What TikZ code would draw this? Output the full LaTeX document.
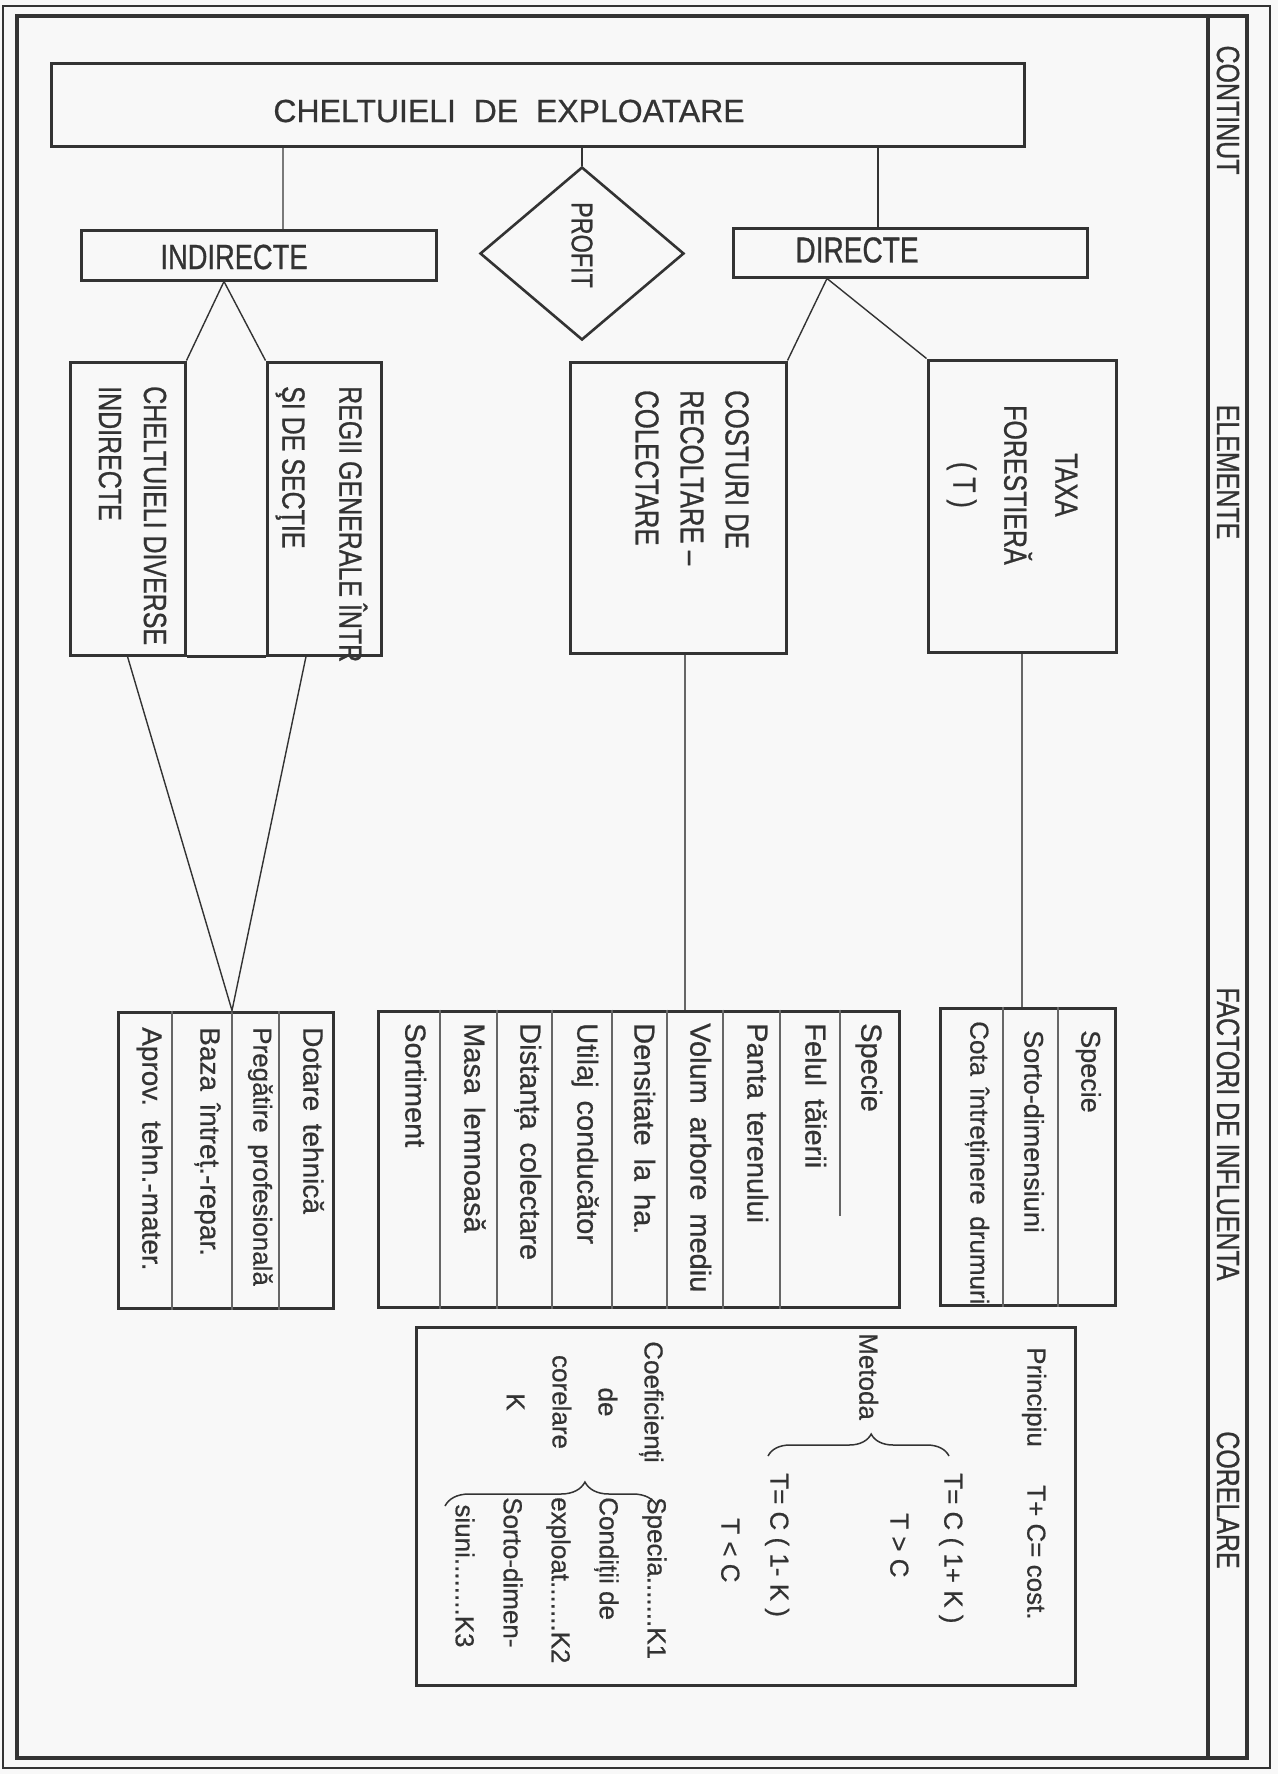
\documentclass[tikz,border=0pt]{standalone}
\usepackage{fontspec}
\setmainfont[FakeBold=0.6]{Liberation Sans}
\newfontfamily\cnd[FakeStretch=0.78,FakeBold=0.8]{Liberation Sans}
\newfontfamily\lst[WordSpace=1.6,FakeBold=0.6]{Liberation Sans}
\usetikzlibrary{shapes.geometric,decorations.pathreplacing}
\definecolor{ink}{HTML}{333333}
\definecolor{paper}{HTML}{F8F8F8}
\begin{document}
\begin{tikzpicture}[x=1pt,y=-1pt,
  every node/.style={text=ink},
  box/.style={draw=ink,line width=3pt,inner sep=0pt},
  conn/.style={draw=ink,line width=1.4pt},
  divl/.style={draw=ink!75,line width=1.2pt},
  rt/.style={rotate=-90,anchor=west,inner sep=0pt},
  rtc/.style={rotate=-90,anchor=center,inner sep=0pt},
  one/.style={text height=0.75em,text depth=0.22em},
  head/.style={rtc,font=\cnd\fontsize{32}{36}\selectfont},
  lstB/.style={rt,one,font=\lst\fontsize{29}{34}\selectfont},
  lstA/.style={rt,one,font=\lst\fontsize{27}{32}\selectfont},
  lstC/.style={rt,one,font=\lst\fontsize{28}{32}\selectfont},
  corel/.style={rt,one,font=\fontsize{26}{30}\selectfont},
  brc/.style={draw=ink,line width=1.5pt,decorate}]
\useasboundingbox (0,0) rectangle (1278,1774);
\fill[paper] (0,0) rectangle (1278,1774);

% frame
\draw[ink,line width=1.6pt] (3,6) rectangle (1270,1768);
\draw[ink,line width=4pt] (17,16) rectangle (1247,1758);
\draw[ink,line width=4pt] (1208,16) -- (1208,1758);

% headings
\node[head] (hcont) at (1228,110) {CONTINUT};
\node[head] (helem) at (1228,472) {ELEMENTE};
\node[head] (hfact) at (1228,1134) {FACTORI DE INFLUENTA};
\node[head] (hcorel) at (1228,1500) {CORELARE};

% top level
\node[box,minimum width=973pt,minimum height=82pt] (main) at (537.5,105) {};
\node[font=\fontsize{32}{36}\selectfont] (maintext) at (509,111) {CHELTUIELI\ \ DE\ \ EXPLOATARE};

\node[box,minimum width=355pt,minimum height=50pt] (indir) at (258.5,255) {};
\node[font=\cnd\fontsize{35}{40}\selectfont] (inditext) at (234,257) {INDIRECTE};

\node[box,minimum width=354pt,minimum height=49pt] (direct) at (910,252.5) {};
\node[font=\cnd\fontsize{36}{40}\selectfont] (directtext) at (857,250) {DIRECTE};

\node[draw=ink,line width=2.6pt,diamond,minimum width=204pt,minimum height=173pt,inner sep=0pt] (profit) at (582,253.5) {};
\node[rtc,font=\cnd\fontsize{30}{34}\selectfont] (proftext) at (582,245) {PROFIT};

\draw[conn,draw=ink!65] ([xshift=24.5pt]indir.north) -- ([xshift=24.5pt]indir.north |- main.south);
\draw[conn] (profit.north) -- (profit.north |- main.south);
\draw[conn] ([xshift=-32pt]direct.north) -- ([xshift=-32pt]direct.north |- main.south);

% elements
\node[box,minimum width=115pt,minimum height=293pt] (chd) at (127.5,508.5) {};
\node[box,minimum width=114pt,minimum height=293pt] (reg) at (324,508.5) {};
\draw[ink,line width=3pt] (chd.south east) -- (reg.south west);
\node[rt,align=left,font=\cnd\fontsize{32}{45}\selectfont] (chdtext) at (132.5,386) {CHELTUIELI DIVERSE\\INDIRECTE};
\node[rt,align=left,font=\cnd\fontsize{32}{57}\selectfont] (regtext) at (321.5,386) {REGII GENERALE ÎNTR\\ŞI DE SECŢIE};

\node[box,minimum width=216pt,minimum height=291pt] (cost) at (678,507.5) {};
\node[rt,align=left,font=\cnd\fontsize{33}{45}\selectfont] (costtext) at (692,390) {COSTURI DE\\RECOLTARE –\\COLECTARE};

\node[box,minimum width=188pt,minimum height=292pt] (taxa) at (1022,506) {};
\node[rt,align=center,font=\cnd\fontsize{32}{51}\selectfont] (taxatext) at (1012,405) {TAXA\\FORESTIERĂ\\( T )};

\draw[conn] (chd.north east) -- ([xshift=-34.5pt]indir.south) -- (reg.north west);
\draw[conn] (cost.north east) -- ([xshift=-83pt]direct.south) -- (taxa.north west);

% factor boxes
\node[box,minimum width=175pt,minimum height=297pt] (boxa) at (1027.5,1156.5) {};
\foreach \dx in {-24.5,30.5} \draw[divl] ([xshift=\dx pt]boxa.north) -- ([xshift=\dx pt]boxa.south);
\node[lstA] (a1) at (1084,1030) {Specie};
\node[lstA] (a2) at (1027,1030) {Sorto-dimensiuni};
\node[lstA,font=\lst\fontsize{26}{30}\selectfont] (a3) at (973,1021) {Cota întreținere drumuri};

\node[box,minimum width=521pt,minimum height=296pt] (boxb) at (638.5,1159) {};
\foreach \dx in {-198.5,-141.5,-86.5,-26.5,28.5,84.5,141.5} \draw[divl] ([xshift=\dx pt]boxb.north) -- ([xshift=\dx pt]boxb.south);
\draw[divl] ([xshift=201.5pt]boxb.north) -- ++(0,206);
\node[lstB] (b1) at (864,1023) {Specie};
\node[lstB] (b2) at (808,1023) {Felul tăierii};
\node[lstB] (b3) at (750,1023) {Panta terenului};
\node[lstB] (b4) at (693,1023) {Volum arbore mediu};
\node[lstB] (b5) at (637,1023) {Densitate la ha.};
\node[lstB] (b6) at (580,1023) {Utilaj conducător};
\node[lstB] (b7) at (523,1023) {Distanța colectare};
\node[lstB] (b8) at (467,1023) {Masa lemnoasă};
\node[lstB] (b9) at (408,1023) {Sortiment};

\node[box,minimum width=215pt,minimum height=296pt] (boxc) at (225.5,1160) {};
\foreach \dx in {-53.5,6.5,53.5} \draw[divl] ([xshift=\dx pt]boxc.north) -- ([xshift=\dx pt]boxc.south);
\node[lstC] (c1) at (306,1027) {Dotare tehnică};
\node[lstC,font=\lst\fontsize{26}{30}\selectfont] (c2) at (256,1027) {Pregătire profesională};
\node[lstC] (c3) at (203,1027) {Baza întreț.-repar.};
\node[lstC] (c4) at (145,1027) {Aprov. tehn.-mater.};

\draw[conn,draw=ink!75] (taxa.south) -- (taxa.south |- boxa.north);
\draw[conn,draw=ink!75] ([xshift=7pt]cost.south) -- ([xshift=7pt]cost.south |- boxb.north);
\draw[conn] (chd.south) -- ([xshift=6.5pt]boxc.north) -- ([xshift=-18pt]reg.south);

% correlation box
\node[box,minimum width=659pt,minimum height=358pt] (boxd) at (745.5,1506) {};
\node[corel] (d1) at (1030,1347) {Principiu};
\node[corel] (d2) at (1030,1485) {T+ C= cost.};
\node[corel] (d3) at (862,1333) {Metoda};
\node[corel] (d4) at (947,1473) {T= C ( 1+ K )};
\node[corel] (d5) at (893,1513) {T > C};
\node[corel] (d6) at (773,1473) {T= C ( 1- K )};
\node[corel] (d7) at (724,1518) {T < C};
\node[rtc,align=center,font=\fontsize{26}{46}\selectfont] (d8) at (585,1402) {Coeficienți\\de\\corelare\\K};
\node[rt,align=left,font=\fontsize{26}{48}\selectfont] (d9) at (561,1497) {Specia.......K1\\Condiții de\\exploat.......K2\\Sorto-dimen-\\\ siuni........K3};
\coordinate (br1a) at (768,1456);
\coordinate (br1b) at (949,1456);
\draw[brc,decoration={brace,amplitude=22pt,aspect=0.57}] (br1a) -- (br1b);
\coordinate (br2a) at (445,1506);
\coordinate (br2b) at (657,1506);
\draw[brc,decoration={brace,amplitude=24pt,aspect=0.66}] (br2a) -- (br2b);
\end{tikzpicture}
\end{document}
